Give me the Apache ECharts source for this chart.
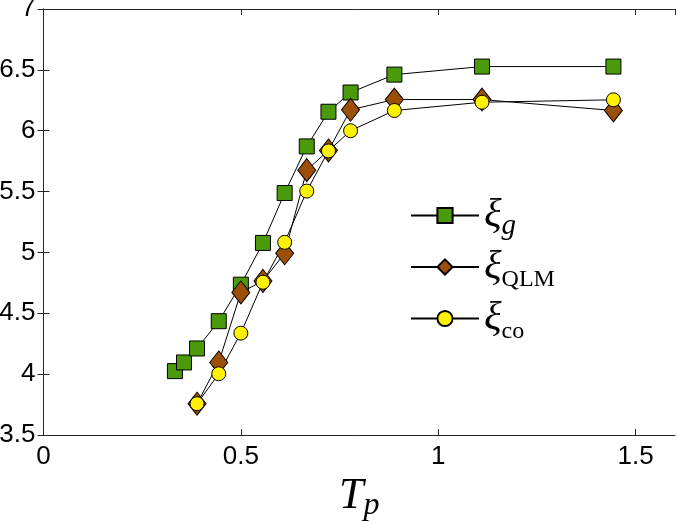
<!DOCTYPE html>
<html>
<head>
<meta charset="utf-8">
<script src="https://cdn.jsdelivr.net/npm/echarts@6/dist/echarts.min.js"></script>
<style>html,body{margin:0;padding:0;background:#fff;}#c{width:677px;height:523px;}</style>
</head>
<body>
<div id="c"></div>
<script>
const xG = [0.333, 0.356, 0.389, 0.444, 0.5, 0.556, 0.611, 0.667, 0.722, 0.778, 0.889, 1.111, 1.444];
const yG = [4.025, 4.096, 4.211, 4.435, 4.735, 5.078, 5.488, 5.871, 6.156, 6.314, 6.461, 6.527, 6.527];
const xQ = [0.389, 0.444, 0.5, 0.556, 0.611, 0.667, 0.722, 0.778, 0.889, 1.111, 1.444];
const yQ = [3.757, 4.096, 4.671, 4.766, 4.993, 5.676, 5.838, 6.172, 6.256, 6.256, 6.166];
const xC = [0.389, 0.444, 0.5, 0.556, 0.611, 0.667, 0.722, 0.778, 0.889, 1.111, 1.444];
const yC = [3.757, 4.003, 4.337, 4.755, 5.083, 5.504, 5.834, 6.0, 6.166, 6.234, 6.254];
const seriesNames = ['g', 'QLM', 'co'];
const xTicks = [0, 0.5, 1, 1.5];
const yTicks = [3.5, 4, 4.5, 5, 5.5, 6, 6.5, 7];

const zip = (xs, ys) => xs.map((x, i) => [x, ys[i]]);
const chart = echarts.init(document.getElementById('c'), null, {renderer: 'canvas'});
const axisColor = '#262626';
const labelFont = {color: '#000', fontFamily: 'Liberation Sans', fontSize: 26};
const baseX = {type: 'value', min: 0, max: 1.6, interval: 0.5, splitLine: {show: false},
  axisLine: {show: true, lineStyle: {color: axisColor, width: 1}},
  axisTick: {show: true, inside: true, length: 6, lineStyle: {color: axisColor}}};
const baseY = {type: 'value', min: 3.5, max: 7, interval: 0.5, splitLine: {show: false},
  axisLine: {show: true, lineStyle: {color: axisColor, width: 1}},
  axisTick: {show: true, inside: true, length: 6, lineStyle: {color: axisColor}}};
const lineSer = (name, data, symbol, size, color) => ({
  name, type: 'line', data, symbol, symbolSize: size, showSymbol: true,
  lineStyle: {color: '#000', width: 1},
  itemStyle: {color, borderColor: '#000', borderWidth: 1},
  emphasis: {disabled: true}, animation: false, z: 2
});
const serif = 'Liberation Serif';
chart.setOption({
  animation: false,
  grid: {left: 43.5, right: 2, top: 9, bottom: 88, outerBoundsMode: 'none', containLabel: false},
  xAxis: [
    Object.assign({}, baseX, {position: 'bottom',
      axisLabel: Object.assign({}, labelFont, {margin: 9, showMaxLabel: false,
        formatter: v => xTicks.includes(v) ? String(v) : ''}),
      name: '{t|T}{p|p}', nameLocation: 'middle', nameGap: 32,
      nameTextStyle: {rich: {
        t: {fontFamily: serif, fontStyle: 'italic', fontSize: 44, lineHeight: 50, verticalAlign: 'middle', color: '#000'},
        p: {fontFamily: serif, fontStyle: 'italic', fontSize: 32, lineHeight: 26, verticalAlign: 'bottom', color: '#000'}
      }}}),
    Object.assign({}, baseX, {position: 'top', axisLabel: {show: false}})
  ],
  yAxis: [
    Object.assign({}, baseY, {position: 'left',
      axisLabel: Object.assign({}, labelFont, {margin: 8, formatter: v => yTicks.includes(v) ? String(v) : ''})}),
    Object.assign({}, baseY, {position: 'right', axisLabel: {show: false}})
  ],
  legend: {
    orient: 'vertical', left: 405, top: 190, itemWidth: 68, itemHeight: 19, itemGap: 6,
    selectedMode: false,
    formatter: n => n === 'g' ? '{xi|ξ}{gi|g}' : '{xi|ξ}{sub|' + n + '}',
    textStyle: {rich: {
      xi: {fontFamily: serif, fontStyle: 'italic', fontSize: 41, lineHeight: 50, verticalAlign: 'middle', color: '#000'},
      gi: {fontFamily: serif, fontStyle: 'italic', fontSize: 29, lineHeight: 25, verticalAlign: 'bottom', color: '#000'},
      sub: {fontFamily: serif, fontSize: 24, lineHeight: 23, verticalAlign: 'bottom', color: '#000'}
    }}
  },
  series: [
    lineSer(seriesNames[0], zip(xG, yG), 'rect', 15, '#4a9a0b'),
    lineSer(seriesNames[1], zip(xQ, yQ), 'diamond', [18, 23], '#9c4f07'),
    lineSer(seriesNames[2], zip(xC, yC), 'circle', 14, '#fff200')
  ]
});
</script>
</body>
</html>
